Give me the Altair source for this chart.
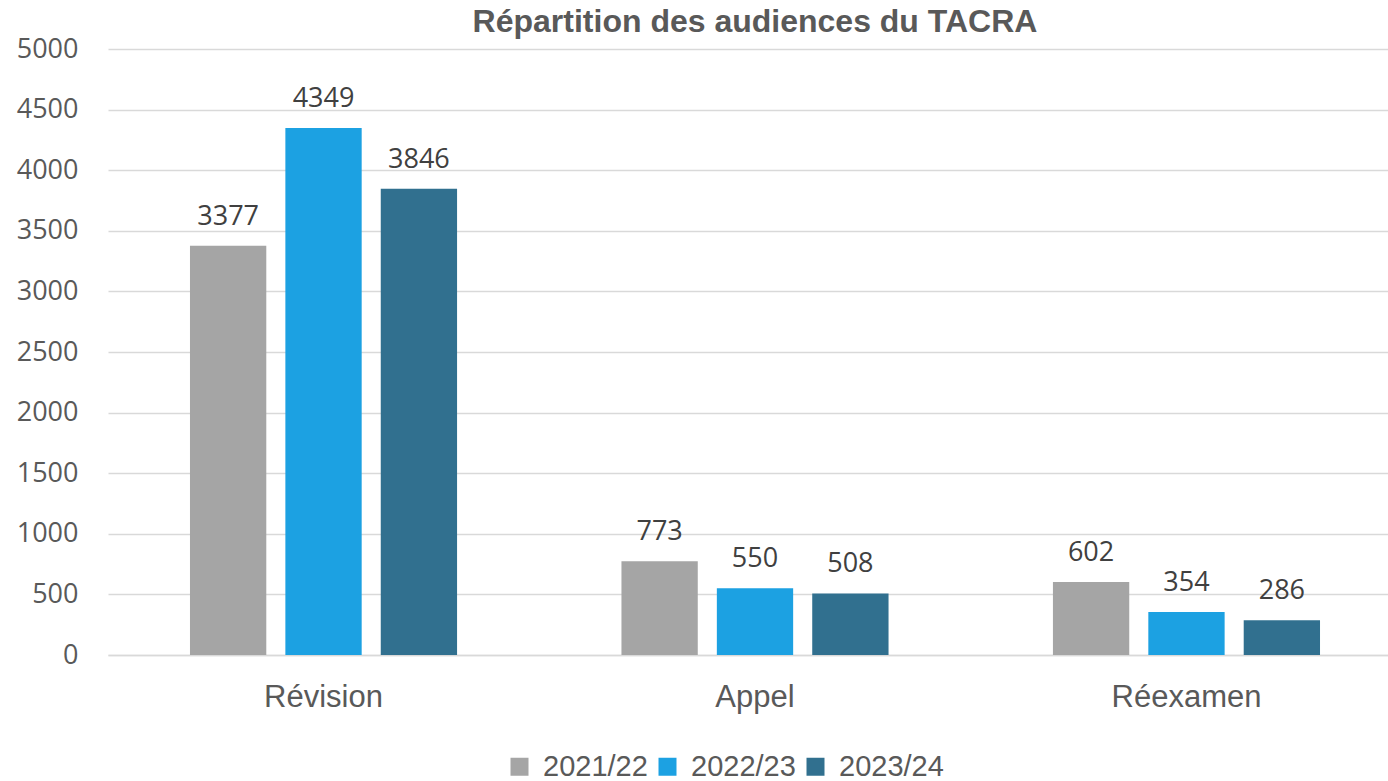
import altair as alt
import pandas as pd

categories = ["Révision", "Appel", "Réexamen"]
years = ["2021/22", "2022/23", "2023/24"]
values_2021 = [3377, 773, 602]
values_2022 = [4349, 550, 354]
values_2023 = [3846, 508, 286]
colors = ["#A5A5A5", "#1CA1E2", "#31708F"]

rows = []
for i, c in enumerate(categories):
    for y, vals in zip(years, [values_2021, values_2022, values_2023]):
        rows.append({"cat": c, "year": y, "value": vals[i]})
df = pd.DataFrame(rows)

x = alt.X("cat:N", sort=categories, title=None,
          scale=alt.Scale(paddingInner=0.381, paddingOuter=0.19, range=[0, 1294]),
          axis=alt.Axis(labelAngle=0, labelFont="Liberation Sans", labelFontSize=31,
                        labelColor="#595959", labelPadding=27, ticks=False,
                        domainColor="#D9D9D9", domainWidth=1.5))
xo = alt.XOffset("year:N", sort=years, scale=alt.Scale(paddingInner=0.2, paddingOuter=0))

base = alt.Chart(df)
bars = base.mark_bar().encode(
    x=x, xOffset=xo,
    y=alt.Y("value:Q", title=None,
            scale=alt.Scale(domain=[0, 5000], nice=False),
            axis=alt.Axis(values=list(range(0, 5001, 500)), format="d",
                          labelFont="Open Sans", labelFontSize=27,
                          labelColor="#595959", labelPadding=30,
                          ticks=False, domain=False, gridColor="#D9D9D9", gridWidth=1.5)),
    color=alt.Color("year:N", sort=years, scale=alt.Scale(domain=years, range=colors),
                    legend=alt.Legend(title=None, orient="none", direction="horizontal",
                                      legendX=397, legendY=703,
                                      labelFont="Liberation Sans", labelFontSize=29,
                                      labelColor="#595959", symbolType="square",
                                      symbolSize=324, symbolStrokeWidth=0,
                                      columnPadding=5, labelOffset=9)),
)
labels = base.mark_text(baseline="bottom", dy=-15, font="Open Sans", fontSize=27,
                        color="#404040").encode(
    x=alt.X("cat:N", sort=categories), xOffset=xo, y="value:Q", text="value:Q")

chart = (bars + labels).properties(
    width=1280, height=606,
    title=alt.TitleParams("Répartition des audiences du TACRA", font="Liberation Sans",
                          fontSize=32, fontWeight="bold", color="#595959", offset=1,
                          dx=7, dy=5),
    autosize=alt.AutoSizeParams(type="none"),
    padding={"left": 108, "top": 49, "right": 0, "bottom": 126},
).configure_view(stroke=None)

chart.save("out.html", embed_options={"renderer": "svg", "actions": False})
